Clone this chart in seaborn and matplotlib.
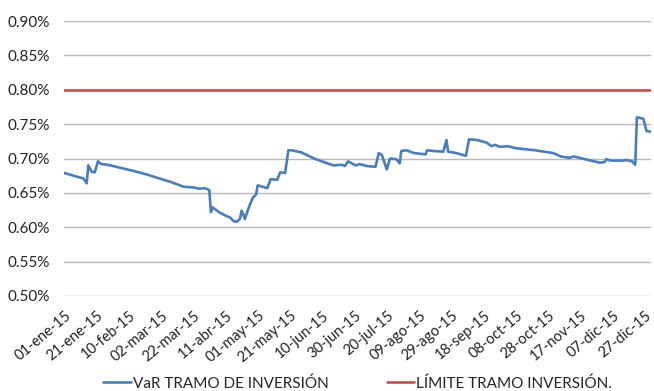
import numpy as np
import pandas as pd
import matplotlib
matplotlib.use("Agg")
import matplotlib.pyplot as plt
import matplotlib.transforms as mtransforms
from matplotlib.ticker import FuncFormatter
import seaborn as sns

# Day of year (0 = 01-ene-2015) and VaR of the investment tranche, in %
var_days = [0, 12, 14, 15, 17, 19, 21, 23, 27, 34, 43, 51, 59, 66, 74, 80, 84, 87,
            90, 91, 92, 96, 100, 103, 105, 107, 109, 110, 111, 112, 115, 117, 119,
            120, 123, 126, 128, 132, 134, 137, 139, 141, 147, 155, 162, 167, 172,
            174, 176, 179, 181, 183, 188, 193, 195, 197, 200, 202, 206, 208, 209,
            212, 217, 224, 225, 229, 235, 237, 238, 243, 249, 251, 256, 262, 265,
            267, 270, 275, 280, 292, 303, 308, 313, 316, 323, 332, 335, 336, 339,
            347, 348, 352, 354, 355, 359, 361, 364]
var_values = [0.679, 0.671, 0.664, 0.690, 0.681, 0.680, 0.696, 0.692, 0.691, 0.687,
              0.682, 0.677, 0.671, 0.666, 0.659, 0.658, 0.656, 0.657, 0.654, 0.622,
              0.629, 0.622, 0.617, 0.614, 0.609, 0.608, 0.612, 0.624, 0.619, 0.612,
              0.632, 0.643, 0.648, 0.661, 0.659, 0.657, 0.670, 0.669, 0.680, 0.679,
              0.712, 0.712, 0.709, 0.700, 0.694, 0.690, 0.691, 0.689, 0.696, 0.692,
              0.690, 0.692, 0.689, 0.688, 0.708, 0.705, 0.684, 0.700, 0.699, 0.693,
              0.711, 0.712, 0.708, 0.706, 0.712, 0.711, 0.710, 0.727, 0.710, 0.708,
              0.704, 0.728, 0.727, 0.723, 0.718, 0.720, 0.717, 0.718, 0.715, 0.712,
              0.708, 0.703, 0.701, 0.703, 0.699, 0.694, 0.695, 0.699, 0.697, 0.697,
              0.698, 0.696, 0.691, 0.760, 0.758, 0.740, 0.739]

limit_value = 0.80
month_abbr = ["ene", "feb", "mar", "abr", "may", "jun",
              "jul", "ago", "sep", "oct", "nov", "dic"]
series_names = ["VaR TRAMO DE INVERSIÓN", "LÍMITE TRAMO INVERSIÓN."]

start = pd.Timestamp("2015-01-01")
end = pd.Timestamp("2015-12-31")
var_dates = [start + pd.Timedelta(days=d) for d in var_days]

df_var = pd.DataFrame({"fecha": var_dates, "valor": var_values})
df_lim = pd.DataFrame({"fecha": [start, end], "valor": [limit_value, limit_value]})

sns.set_theme(style="white")
plt.rcParams["font.family"] = ["Lato", "DejaVu Sans"]

fig = plt.figure(figsize=(6.54, 3.91), dpi=100)
ax = fig.add_axes([0.098, 0.243, 0.898, 0.703])

blue = "#4A7EBB"
red = "#C0504D"

sns.lineplot(data=df_var, x="fecha", y="valor", ax=ax, color=blue,
             linewidth=1.9, label=series_names[0])
sns.lineplot(data=df_lim, x="fecha", y="valor", ax=ax, color=red,
             linewidth=1.9, label=series_names[1])

ax.set_ylim(0.50, 0.90)
ax.set_yticks(np.arange(0.50, 0.901, 0.05))
ax.yaxis.set_major_formatter(FuncFormatter(lambda v, p: f"{v:.2f}%"))
ax.set_xlim(start, end)

ax.grid(axis="y", color="#B8B8B8", linewidth=1.0)
ax.set_axisbelow(True)
for s in ax.spines.values():
    s.set_visible(False)
ax.tick_params(axis="both", length=0, colors="#222222")
ax.tick_params(axis="y", labelsize=11, pad=10)
ax.tick_params(axis="x", pad=2)
ax.set_xlabel("")
ax.set_ylabel("")

tick_dates = pd.date_range(start, end, freq="20D")
ax.set_xticks(tick_dates)
ax.set_xticklabels([f"{d.day:02d}-{month_abbr[d.month - 1]}-15" for d in tick_dates],
                   rotation=40, ha="right", va="center", rotation_mode="anchor",
                   fontsize=10.5)
# nudge the rotated date labels so their ends sit just below each tick
shift = mtransforms.ScaledTranslation(5 / 100, -15 / 100, fig.dpi_scale_trans)
for tick in ax.xaxis.get_major_ticks():
    tick.label1.set_transform(tick.label1.get_transform() + shift)

ax.legend(loc="center", bbox_to_anchor=(0.5, -0.318), ncol=2, frameon=False,
          fontsize=11, handlelength=1.8, handletextpad=0.15, columnspacing=3.8)

fig.savefig("out.png", dpi=100)
